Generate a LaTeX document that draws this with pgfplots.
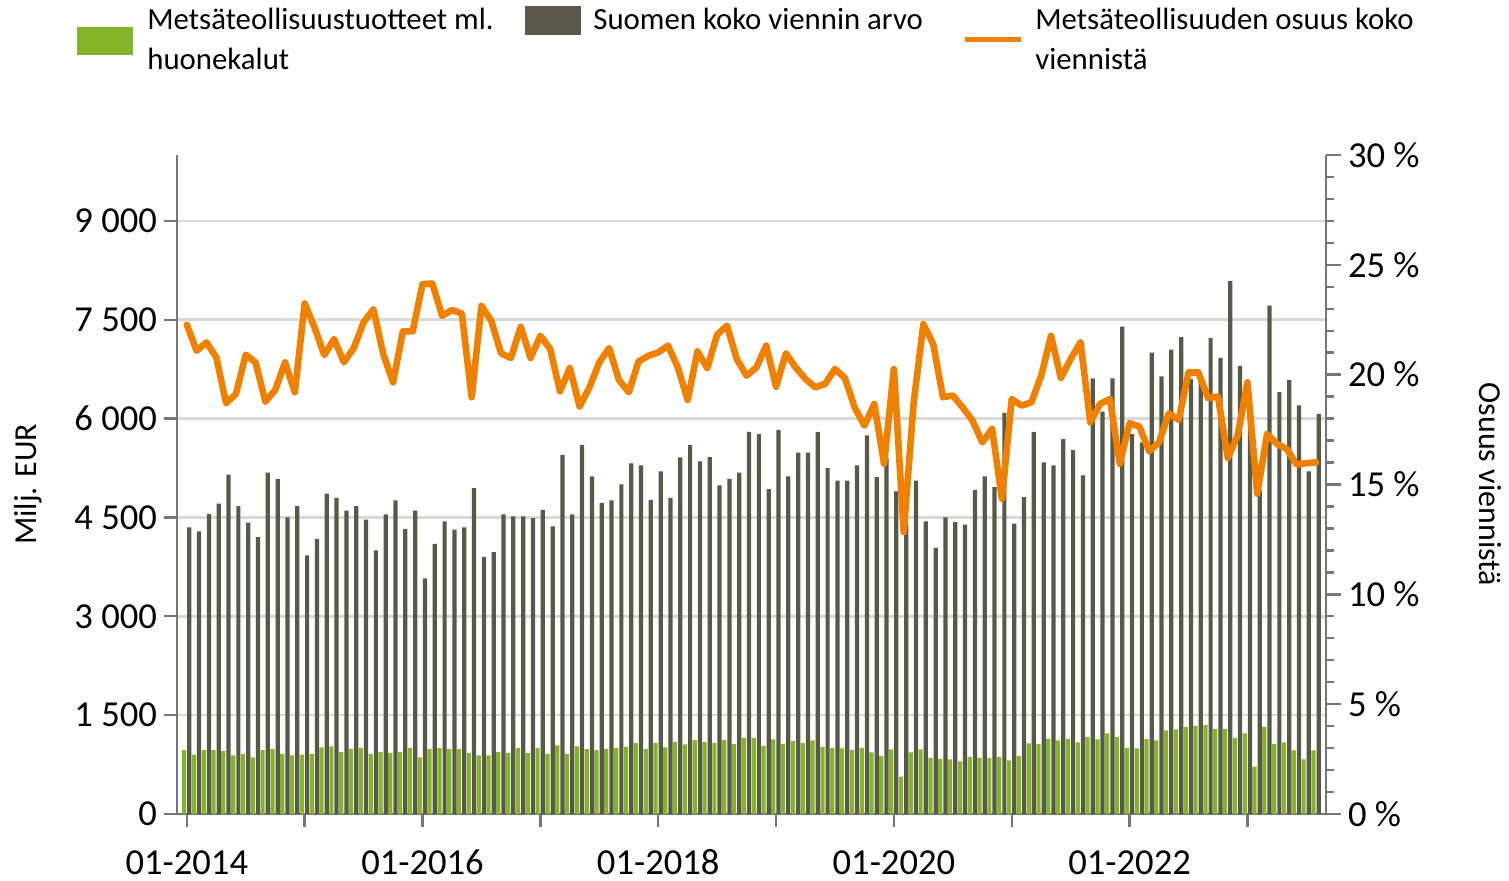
\documentclass[border=0pt]{standalone}
\usepackage{pgfplots}
\usepackage{pgfplotstable}
\pgfplotsset{compat=1.18}
\usepackage{fontspec}
\setmainfont{Carlito}
\definecolor{fgreen}{RGB}{131,180,41}
\definecolor{tgray}{RGB}{88,89,73}
\definecolor{lorange}{RGB}{240,128,0}
\definecolor{axgray}{RGB}{118,118,118}
\definecolor{gridgray}{RGB}{217,217,217}

\pgfplotstableread{
i forest total share
0 970 4350 22.27
1 899 4290 21.09
2 970 4550 21.47
3 970 4710 20.79
4 955 5150 18.70
5 889 4670 19.12
6 914 4420 20.91
7 859 4200 20.56
8 970 5180 18.77
9 985 5085 19.30
10 914 4500 20.56
11 889 4670 19.20
12 899 3925 23.24
13 914 4175 22.15
14 1010 4860 20.89
15 1025 4795 21.62
16 939 4605 20.56
17 985 4670 21.21
18 1000 4465 22.38
19 914 4000 22.98
20 939 4545 20.94
21 929 4760 19.65
22 939 4325 21.97
23 1000 4605 21.97
24 859 3575 24.12
25 985 4100 24.15
26 1000 4440 22.68
27 985 4315 22.94
28 985 4350 22.79
29 929 4945 18.97
30 889 3900 23.13
31 889 3975 22.45
32 939 4545 20.97
33 929 4515 20.76
34 1000 4515 22.18
35 929 4490 20.76
36 1000 4615 21.77
37 914 4365 21.17
38 1040 5450 19.24
39 914 4545 20.30
40 1025 5600 18.55
41 985 5125 19.42
42 970 4720 20.56
43 985 4760 21.21
44 1000 5000 19.76
45 1020 5320 19.20
46 1080 5290 20.60
47 985 4765 20.86
48 1080 5200 21.01
49 1010 4795 21.32
50 1090 5410 20.33
51 1055 5600 18.85
52 1120 5350 21.06
53 1090 5415 20.30
54 1080 4985 21.82
55 1120 5085 22.23
56 1065 5180 20.71
57 1156 5800 19.95
58 1156 5765 20.33
59 1035 4930 21.32
60 1131 5830 19.45
61 1065 5125 20.97
62 1106 5485 20.33
63 1075 5485 19.80
64 1116 5800 19.42
65 1020 5250 19.58
66 1005 5060 20.26
67 995 5060 19.85
68 970 5290 18.51
69 1005 5745 17.68
70 934 5110 18.67
71 880 5400 15.94
72 980 4895 20.26
73 566 4400 12.83
74 934 5060 18.67
75 980 4440 22.30
76 853 4040 21.39
77 838 4500 18.97
78 828 4430 19.05
79 798 4390 18.51
80 864 4920 17.91
81 853 5125 16.92
82 853 4960 17.53
83 864 6085 14.35
84 813 4405 18.89
85 879 4810 18.59
86 1071 5800 18.74
87 1061 5335 19.95
88 1141 5290 21.77
89 1116 5690 19.85
90 1141 5520 20.71
91 1086 5140 21.47
92 1172 6610 17.83
93 1131 6105 18.67
94 1222 6610 18.89
95 1172 7395 15.94
96 1005 5765 17.79
97 995 5640 17.64
98 1141 7000 16.51
99 1116 6640 16.92
100 1268 7045 18.24
101 1283 7235 17.94
102 1323 6600 20.10
103 1338 6600 20.10
104 1348 7220 18.94
105 1293 6920 19.00
106 1293 8090 16.21
107 1156 6800 17.23
108 1222 6220 19.65
109 717 4920 14.58
110 1323 7715 17.30
111 1061 6400 16.85
112 1086 6585 16.62
113 965 6200 15.91
114 828 5200 15.97
115 965 6070 16.01
}\data

\begin{document}
\begin{tikzpicture}
\useasboundingbox (-88.5pt,-33.5pt) rectangle (666pt,407pt);
\begin{axis}[
  scale only axis, width=574.5pt, height=329.5pt,
  at={(0,0)}, anchor=south west,
  xmin=-1, xmax=116, ymin=0, ymax=10000,
  axis y line*=left, axis x line*=bottom,
  axis line style={draw=axgray, line width=1.2pt},
  xtick={0,12,...,108},
  xticklabels={01-2014,,01-2016,,01-2018,,01-2020,,01-2022,},
  ytick={0,1500,...,9000},
  yticklabels={0,1 500,3 000,4 500,6 000,7 500,9 000},
  scaled y ticks=false,
  tick align=outside,
  major tick length=6.5pt,
  tick style={draw=axgray, line width=1.2pt},
  ymajorgrids,
  grid style={draw=gridgray, line width=1.3pt},
  ticklabel style={font=\fontsize{18.3}{20}\selectfont, text=black},
  xticklabel style={anchor=north, text height=12.5pt, text depth=0pt, yshift=-7.5pt},
  /pgf/number format/assume math mode=true,
  ylabel={Milj. EUR},
  every axis y label/.style={at={(axis description cs:-0.1297,0.5)}, rotate=90, anchor=center, font=\fontsize{16}{18}\selectfont},
  clip=false,
]
\addplot[ybar, bar width=0.43, bar shift=-0.28, fill=fgreen, draw=none] table[x=i, y=forest] {\data};
\addplot[ybar, bar width=0.43, bar shift=0.25, fill=tgray, draw=none] table[x=i, y=total] {\data};
\end{axis}
\begin{axis}[
  scale only axis, width=574.5pt, height=329.5pt,
  at={(0,0)}, anchor=south west,
  xmin=-1, xmax=116, ymin=0, ymax=30,
  axis y line*=right, axis x line=none,
  axis line style={draw=axgray, line width=1.2pt},
  ytick={0,5,...,30},
  yticklabels={0 \%,5 \%,10 \%,15 \%,20 \%,25 \%,30 \%},
  minor y tick num=4,
  tick align=outside,
  tick style={draw=axgray, line width=1.2pt},
  major tick length=7.5pt, minor tick length=3.8pt,
  ticklabel style={font=\fontsize{18.3}{20}\selectfont, text=black},
  /pgf/number format/assume math mode=true,
  ylabel={Osuus viennistä},
  every axis y label/.style={at={(axis description cs:1.1427,0.5)}, rotate=-90, anchor=center, font=\fontsize{16}{18}\selectfont},
  clip=false,
]
\addplot[lorange, line width=3.3pt, line join=round, line cap=round] table[x=i, y=share] {\data};
\end{axis}
% legend
\fill[fgreen] (-50pt,379.5pt) rectangle (-22pt,393.5pt);
\node[anchor=base west, inner sep=0pt, font=\fontsize{15.4}{20}\selectfont] at (-15pt,392pt) {Metsäteollisuustuotteet ml.};
\node[anchor=base west, inner sep=0pt, font=\fontsize{15.4}{20}\selectfont] at (-15pt,372pt) {huonekalut};
\fill[tgray] (174pt,389.5pt) rectangle (202pt,404pt);
\node[anchor=base west, inner sep=0pt, font=\fontsize{15.4}{20}\selectfont] at (208pt,392pt) {Suomen koko viennin arvo};
\draw[lorange, line width=2.5pt] (394pt,387pt) -- (422pt,387pt);
\node[anchor=base west, inner sep=0pt, font=\fontsize{15.4}{20}\selectfont] at (429pt,392pt) {Metsäteollisuuden osuus koko};
\node[anchor=base west, inner sep=0pt, font=\fontsize{15.4}{20}\selectfont] at (429pt,372pt) {viennistä};
\end{tikzpicture}
\end{document}
